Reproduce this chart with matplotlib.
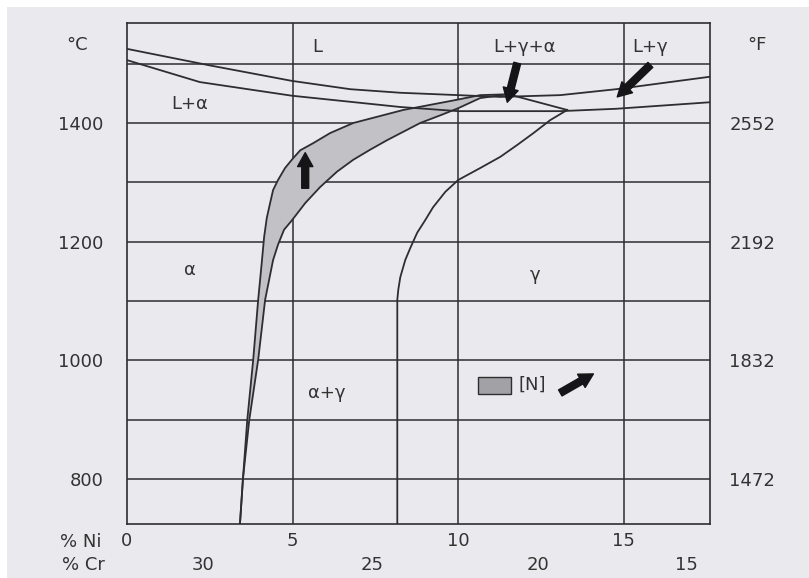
import matplotlib
matplotlib.use("Agg")
import matplotlib.pyplot as plt
from matplotlib.patches import Rectangle
import numpy as np

plt.rcParams['font.family'] = ['DejaVu Sans']

# ---- data (Ni %, temperature °C) ----
liquidus_ni = [0.0, 2.51, 4.98, 6.74, 8.25, 10.0, 11.27, 13.08, 14.77, 17.6]
liquidus_t = [1525, 1497, 1471, 1457, 1451, 1447, 1444, 1447, 1457, 1478]

solidus_ni = [0.0, 2.2, 4.98, 8.25, 10.0, 13.08, 14.77, 17.6]
solidus_t = [1506, 1469, 1446, 1427, 1420, 1420, 1424, 1435]

ferrite_outer_ni = [3.41, 3.50, 3.63, 3.81, 3.96, 4.06, 4.14, 4.22, 4.32, 4.41, 4.56, 4.77,
                    5.02, 5.23, 5.62, 6.13, 6.83, 8.34, 9.85, 10.66, 11.51]
ferrite_outer_t = [724, 800, 899, 1001, 1102, 1160, 1208, 1240, 1265, 1287, 1304, 1324,
                   1341, 1354, 1366, 1383, 1400, 1422, 1438, 1447, 1448.5]

ferrite_inner_ni = [3.41, 3.50, 3.69, 3.96, 4.17, 4.41, 4.56, 4.74, 4.98, 5.38, 5.83,
                    6.34, 6.83, 7.34, 7.85, 8.85, 9.46, 10.0, 10.66, 11.51]
ferrite_inner_t = [724, 800, 899, 1001, 1102, 1169, 1195, 1220, 1236, 1265, 1292,
                   1318, 1338, 1355, 1371, 1400, 1413, 1425, 1442, 1448.5]

tie_ni = [11.51, 13.29]
tie_t = [1448.5, 1422]

gamma_ni = [13.29, 12.78, 12.27, 11.78, 11.27, 10.66, 10.0, 9.61, 9.24, 9.0, 8.76,
            8.55, 8.40, 8.25, 8.19, 8.16, 8.16]
gamma_t = [1422, 1405, 1383, 1363, 1343, 1324, 1304, 1284, 1258, 1236, 1215,
           1189, 1169, 1140, 1119, 1102, 724]

ni_ticks = [0, 5, 10, 15]
cr_labels = [30, 25, 20, 15]
cr_pos = [2.3, 7.4, 12.4, 16.9]
c_ticks = [800, 1000, 1200, 1400]
f_ticks = [1472, 1832, 2192, 2552]
t_grid = [800, 900, 1000, 1100, 1200, 1300, 1400, 1500]

phase_labels = [("L", 5.74, 1528), ("L+γ+α", 12.0, 1528), ("L+γ", 15.8, 1528),
                ("L+α", 1.9, 1432), ("α", 1.9, 1152), ("γ", 12.33, 1144),
                ("α+γ", 6.04, 945)]

arrows = [((5.38, 1290), (5.38, 1350)),
          ((11.78, 1501), (11.48, 1435)),
          ((15.8, 1498), (14.80, 1444)),
          ((13.08, 945), (14.08, 977))]

# ---- figure ----
W, H = 809, 578
bg = '#eaeaee'
fig = plt.figure(figsize=(W / 100, H / 100), dpi=100)
fig.patch.set_facecolor(bg)
fig.add_artist(Rectangle((0, 1 - 7 / H), 1, 7 / H, transform=fig.transFigure,
                         facecolor='white', edgecolor='none', zorder=-5))
fig.add_artist(Rectangle((0, 0), 7 / W, 1, transform=fig.transFigure,
                         facecolor='white', edgecolor='none', zorder=-5))

ax = fig.add_axes([127 / W, (H - 524) / H, (710 - 127) / W, (524 - 23) / H])
ax.set_facecolor(bg)
ax.set_xlim(0, 17.6)
ax.set_ylim(724, 1568.6)

dark = '#2e2e30'
txt = '#333333'
fs = 13
for x in ni_ticks[1:]:
    ax.axvline(x, color=dark, lw=1.1, zorder=1)
for t in t_grid:
    ax.axhline(t, color=dark, lw=1.1, zorder=1)
for s in ax.spines.values():
    s.set_color(dark)
    s.set_linewidth(1.2)

ax.fill(np.r_[ferrite_outer_ni, ferrite_inner_ni[::-1]],
        np.r_[ferrite_outer_t, ferrite_inner_t[::-1]],
        facecolor='#c2c2c6', edgecolor='none', zorder=2)
lw = 1.3
ax.plot(ferrite_outer_ni, ferrite_outer_t, color=dark, lw=lw, zorder=3)
ax.plot(ferrite_inner_ni, ferrite_inner_t, color=dark, lw=lw, zorder=3)
ax.plot(liquidus_ni, liquidus_t, color=dark, lw=lw, zorder=3)
ax.plot(solidus_ni, solidus_t, color=dark, lw=lw, zorder=3)
ax.plot(tie_ni, tie_t, color=dark, lw=lw, zorder=3)
ax.plot(gamma_ni, gamma_t, color=dark, lw=lw, zorder=3)

for (x0, y0), (x1, y1) in arrows:
    ax.annotate('', xy=(x1, y1), xytext=(x0, y0),
                arrowprops=dict(arrowstyle='simple,head_width=1.1,head_length=1.0,tail_width=0.5',
                                color='#151517', shrinkA=0, shrinkB=0), zorder=5)

for s, x, y in phase_labels:
    ax.text(x, y, s, ha='center', va='center', fontsize=fs, color=txt, zorder=6)

ax.add_patch(Rectangle((10.60, 943.3), 1.0, 28.6, facecolor='#a2a2a6',
                       edgecolor=dark, lw=1.0, zorder=4))
ax.text(11.82, 958, "[N]", ha='left', va='center', fontsize=fs, color=txt, zorder=6)

# axes ticks
ax.set_xticks(ni_ticks)
ax.set_xticklabels([str(v) for v in ni_ticks], fontsize=fs, color=txt)
ax.tick_params(axis='x', length=0, pad=6)
ax.set_yticks(c_ticks)
ax.set_yticklabels([str(v) for v in c_ticks], fontsize=fs, color=txt)
ax.tick_params(axis='y', length=0, pad=17)

sec = ax.secondary_yaxis('right', functions=(lambda c: c * 9 / 5 + 32, lambda f: (f - 32) * 5 / 9))
sec.set_yticks(f_ticks)
sec.set_yticklabels([str(v) for v in f_ticks], fontsize=fs, color=txt)
sec.tick_params(length=0, pad=14)
sec.spines['right'].set_visible(False)

xt = ax.get_xaxis_transform()
for v, p in zip(cr_labels, cr_pos):
    ax.text(p, -(565 - 524) / 501, str(v), transform=xt, ha='center', va='center',
            fontsize=fs, color=txt)

fig.text(102 / W, 1 - 542 / H, "% Ni", ha='right', va='center', fontsize=fs, color=txt)
fig.text(105 / W, 1 - 565 / H, "% Cr", ha='right', va='center', fontsize=fs, color=txt)
fig.text(77 / W, 1 - 45 / H, "°C", ha='center', va='center', fontsize=fs, color=txt)
fig.text(757 / W, 1 - 45 / H, "°F", ha='center', va='center', fontsize=fs, color=txt)

fig.savefig('out.png', dpi=100, facecolor=fig.get_facecolor())
